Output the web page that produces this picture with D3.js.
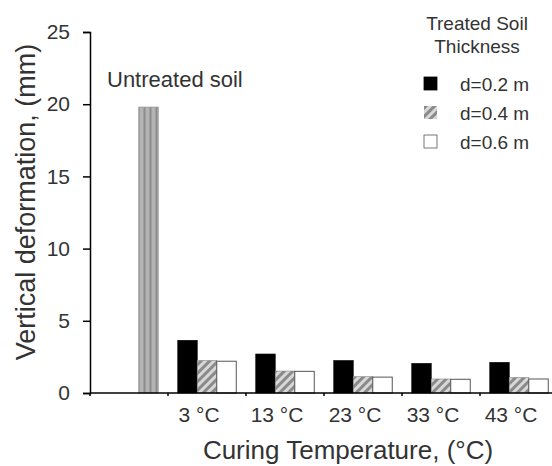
<!DOCTYPE html>
<html><head><meta charset="utf-8">
<script src="https://cdn.jsdelivr.net/npm/d3@7"></script>
<style>body{margin:0;background:#fff}svg{display:block;font-family:"Liberation Sans",Arial,sans-serif}</style>
</head><body><svg id="c" width="552" height="466"></svg>
<script>
const categories = ["", "3 °C", "13 °C", "23 °C", "33 °C", "43 °C"];
const series = ["d=0.2 m", "d=0.4 m", "d=0.6 m"];
const d02 = [null, 3.65, 2.7, 2.25, 2.05, 2.12];
const d04 = [null, 2.25, 1.52, 1.13, 0.97, 1.08];
const d06 = [null, 2.2, 1.5, 1.1, 0.95, 0.97];
const untreated = 19.8;
const yTicks = [0, 5, 10, 15, 20, 25];

const FF = "'Liberation Sans', Arial, sans-serif";
const svg = d3.select("#c");
const defs = svg.append("defs");
const hp = defs.append("pattern").attr("id","hatch").attr("patternUnits","userSpaceOnUse")
  .attr("width",6).attr("height",6).attr("patternTransform","rotate(45)");
hp.append("rect").attr("width",6).attr("height",6).attr("fill","#d8d8d8");
hp.append("rect").attr("width",3).attr("height",6).attr("fill","#8a8a8a");
const vp = defs.append("pattern").attr("id","vstripe").attr("patternUnits","userSpaceOnUse")
  .attr("width",6).attr("height",6).attr("x",137.5);
vp.append("rect").attr("width",6).attr("height",6).attr("fill","#b4b4b4");
vp.append("rect").attr("x",0).attr("width",2).attr("height",6).attr("fill","#8c8c8c");

const x = d3.scaleBand().domain(categories.map((c,i)=>i)).range([90, 558]).padding(0);
const inner = d3.scaleBand().domain([0,1,2]).range([0, x.bandwidth()]).paddingOuter(0.5).paddingInner(0);
const y = d3.scaleLinear().domain([0,25]).range([393, 32]);

// y axis
const ya = svg.append("g").attr("transform","translate(90,0)")
  .call(d3.axisLeft(y).tickValues(yTicks).tickSize(7).tickPadding(13));
ya.select(".domain").attr("stroke","#000").attr("stroke-width",1.5);
ya.selectAll(".tick line").attr("stroke-width",1.5);
ya.selectAll("text").attr("font-size",21).attr("fill","#333").attr("font-family",FF);

// bars
const fills = ["#000", "url(#hatch)", "#fff"];
const strokes = ["#000", "#888", "#555"];
const vals = [d02, d04, d06];
vals.forEach((arr, s) => {
  svg.append("g").selectAll("rect").data(arr.map((v,i)=>({v,i})).filter(d=>d.v!==null))
    .join("rect")
    .attr("x", d=>x(d.i)+inner(s))
    .attr("width", inner.bandwidth())
    .attr("y", d=>y(d.v))
    .attr("height", d=>y(0)-y(d.v))
    .attr("fill", fills[s]).attr("stroke", strokes[s]).attr("stroke-width", s===2?1:0.6);
});
svg.append("rect").attr("x", x(0)+inner(2)).attr("width", inner.bandwidth())
  .attr("y", y(untreated)).attr("height", y(0)-y(untreated))
  .attr("fill","url(#vstripe)").attr("stroke","#999").attr("stroke-width",0.8);

// x axis
const xa = svg.append("g").attr("transform","translate(0,393)")
  .call(d3.axisBottom(x).tickSize(0).tickFormat(i=>categories[i]).tickPadding(14));
xa.select(".domain").attr("d","M90,0H552").attr("stroke","#000").attr("stroke-width",1.5);
xa.selectAll("text").attr("font-size",21).attr("fill","#333").attr("dx",-8)
  .attr("font-family",FF);
svg.append("g").selectAll("line").data(categories.map((c,i)=>i)).join("line")
  .attr("x1",i=>x(i)).attr("x2",i=>x(i)).attr("y1",393).attr("y2",396)
  .attr("stroke","#000").attr("stroke-width",1.5);

// titles
svg.append("text").attr("x",348).attr("y",459).attr("text-anchor","middle")
  .attr("font-size",26).attr("fill","#333").text("Curing Temperature, (°C)");
svg.append("text").attr("transform","translate(35,202) rotate(-90)").attr("text-anchor","middle")
  .attr("font-size",27).attr("fill","#333").text("Vertical deformation, (mm)");
svg.append("text").attr("x",107).attr("y",87).attr("font-size",22).attr("fill","#333").text("Untreated soil");

// legend
svg.append("text").attr("x",477).attr("y",30).attr("text-anchor","middle").attr("font-size",19).attr("fill","#333").text("Treated Soil");
svg.append("text").attr("x",477).attr("y",53).attr("text-anchor","middle").attr("font-size",19).attr("fill","#333").text("Thickness");
const lg = svg.append("g").selectAll("g").data(series).join("g")
  .attr("transform",(d,i)=>`translate(424,${77+i*29})`);
lg.append("rect").attr("width",13).attr("height",13)
  .attr("fill",(d,i)=>fills[i]).attr("stroke",(d,i)=>i===1?"none":(i===2?"#555":"#000")).attr("stroke-width",0.8);
lg.append("text").attr("x",36).attr("y",14).attr("font-size",19).attr("fill","#333").text(d=>d);
</script></body></html>
